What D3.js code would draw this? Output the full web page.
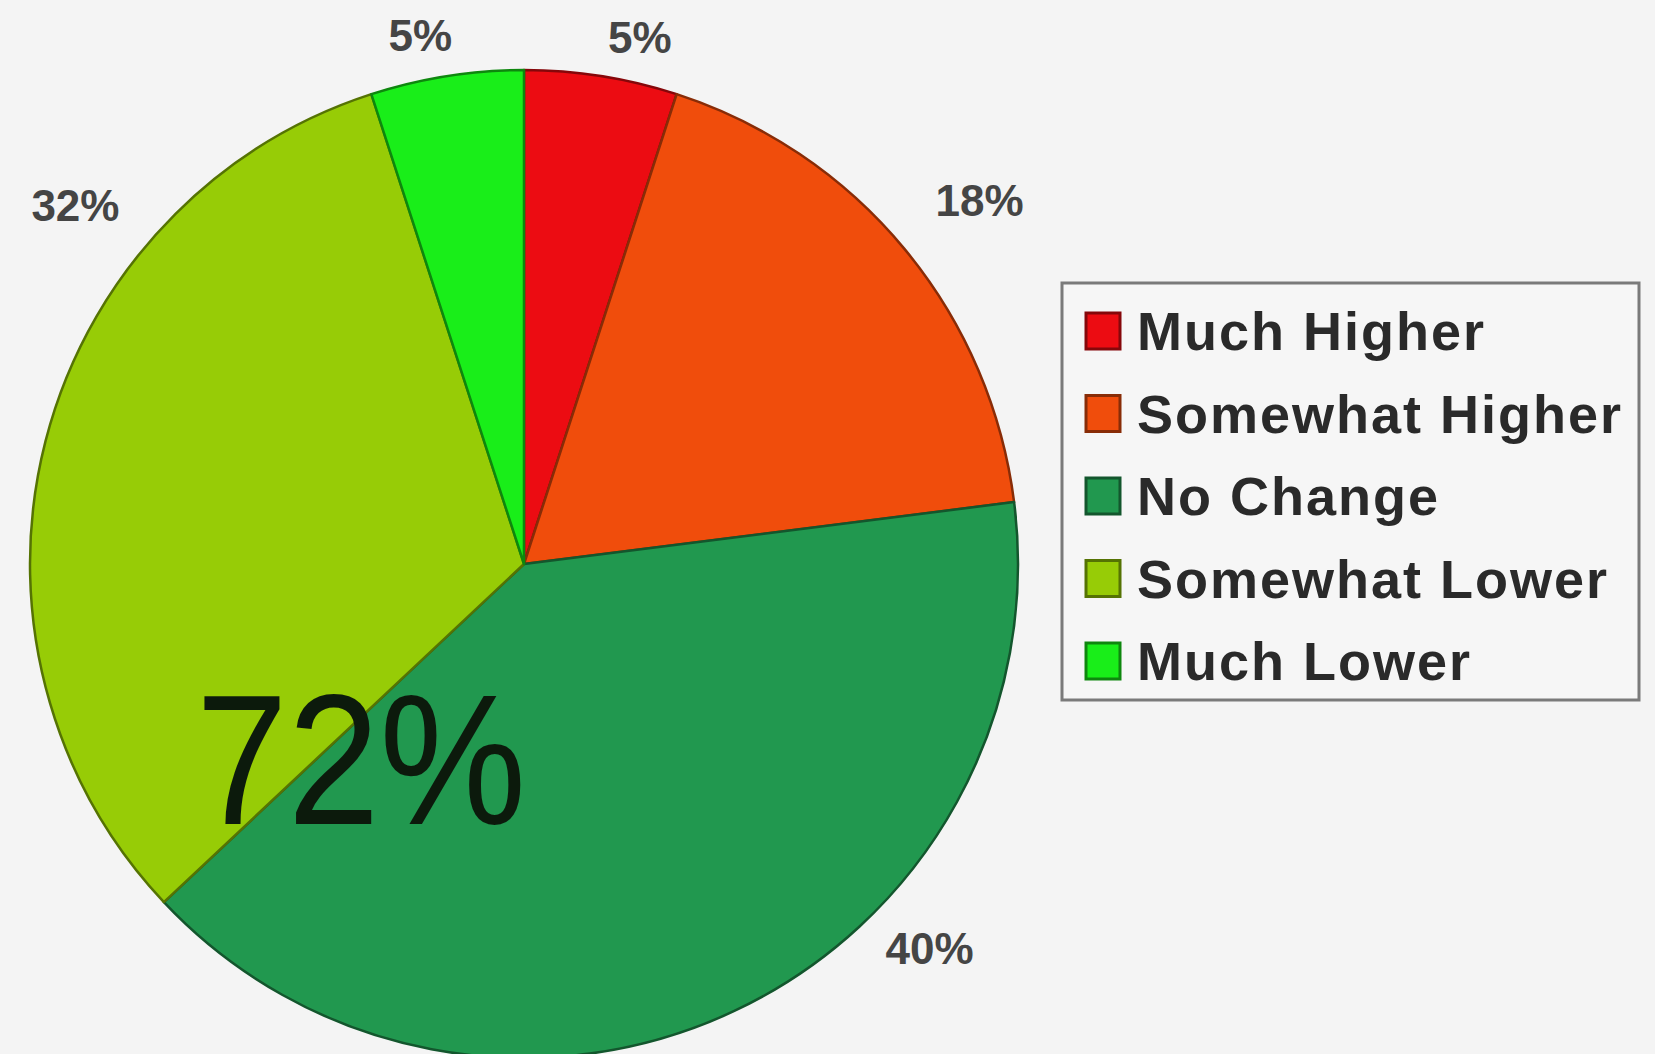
<!DOCTYPE html>
<html>
<head>
<meta charset="utf-8">
<script src="https://cdn.jsdelivr.net/npm/d3@7"></script>
<style>
  html, body { margin: 0; padding: 0; background: #f4f4f4; }
  svg { display: block; }
</style>
</head>
<body>
<svg id="chart" width="1655" height="1054"></svg>
<script>
// Survey answers, clockwise from 12 o'clock
const categories = ["Much Higher", "Somewhat Higher", "No Change", "Somewhat Lower", "Much Lower"];
const shares = [5, 18, 40, 32, 5];
const sliceColors = ["#ec0c12", "#f04d0c", "#21984f", "#97cc06", "#19ee19"];
// The headline figure combines these two answers
const highlighted = ["No Change", "Somewhat Lower"];

const W = 1655, H = 1054;
const svg = d3.select("#chart");
svg.append("rect").attr("width", W).attr("height", H).attr("fill", "#f4f4f4");

const cx = 524, cy = 564, R = 494;
const data = categories.map((c, i) => ({ name: c, value: shares[i], color: sliceColors[i] }));

const pie = d3.pie().value(d => d.value).sort(null).startAngle(0).endAngle(2 * Math.PI);
const arcs = pie(data);
const arc = d3.arc().innerRadius(0).outerRadius(R);

const g = svg.append("g").attr("transform", `translate(${cx},${cy})`);
g.selectAll("path.slice")
  .data(arcs)
  .join("path")
  .attr("class", "slice")
  .attr("d", arc)
  .attr("fill", d => d.data.color)
  .attr("stroke", d => d3.color(d.data.color).darker(1.6))
  .attr("stroke-width", 2.5)
  .attr("stroke-linejoin", "round");

// Outside labels: each placed along its own direction from the centre
const labelPlacement = {
  "Much Higher":     { angle: 12.4,  r: 539 },
  "Somewhat Higher": { angle: 51.4,  r: 583 },
  "No Change":       { angle: 133.5, r: 559 },
  "Somewhat Lower":  { angle: -51.4, r: 574 },
  "Much Lower":      { angle: -11.1, r: 539 }
};
g.selectAll("text.pct")
  .data(arcs)
  .join("text")
  .attr("class", "pct")
  .attr("x", d => labelPlacement[d.data.name].r * Math.sin(labelPlacement[d.data.name].angle * Math.PI / 180))
  .attr("y", d => -labelPlacement[d.data.name].r * Math.cos(labelPlacement[d.data.name].angle * Math.PI / 180))
  .attr("text-anchor", "middle")
  .attr("dominant-baseline", "central")
  .attr("font-family", "Liberation Sans, Arial, sans-serif")
  .attr("font-weight", "bold")
  .attr("font-size", 44)
  .attr("fill", "#454545")
  .text(d => d.data.value + "%");

// Headline total
const total = d3.sum(data.filter(d => highlighted.includes(d.name)), d => d.value);
svg.append("text")
  .attr("x", 196)
  .attr("y", 824)
  .attr("font-family", "Liberation Sans, Arial, sans-serif")
  .attr("font-size", 186)
  .attr("textLength", 330)
  .attr("lengthAdjust", "spacingAndGlyphs")
  .attr("fill", "#0c1a0c")
  .text(total + "%");

// Legend
const lg = svg.append("g").attr("transform", "translate(1062,283)");
lg.append("rect")
  .attr("x", 0).attr("y", 0)
  .attr("width", 577).attr("height", 417)
  .attr("fill", "#f6f6f6")
  .attr("stroke", "#7a7a7a")
  .attr("stroke-width", 3);

const rowY = d3.scalePoint().domain(categories).range([48, 378]);
const rows = lg.selectAll("g.row")
  .data(data)
  .join("g")
  .attr("class", "row")
  .attr("transform", d => `translate(0,${rowY(d.name)})`);
rows.append("rect")
  .attr("x", 24).attr("y", -18)
  .attr("width", 34).attr("height", 36)
  .attr("fill", d => d.color)
  .attr("stroke", d => d3.color(d.color).darker(1.6))
  .attr("stroke-width", 3);
rows.append("text")
  .attr("x", 75)
  .attr("y", 19)
  .attr("font-family", "Liberation Sans, Arial, sans-serif")
  .attr("font-weight", "bold")
  .attr("font-size", 54)
  .attr("letter-spacing", 2)
  .attr("fill", "#2a2a2a")
  .text(d => d.name);
</script>
</body>
</html>
